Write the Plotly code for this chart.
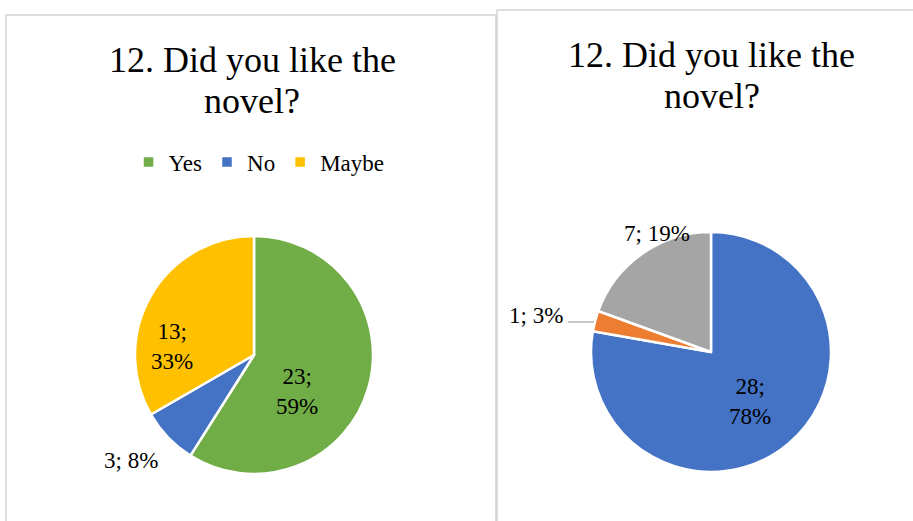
import plotly.graph_objects as go

# Survey answers to question 12, two respondent groups
categories = ["Yes", "No", "Maybe"]
group_a_counts = [23, 3, 13]
group_b_counts = [28, 1, 7]

title_line1 = "12. Did you like the"
title_line2 = "novel?"

colors_a = ["#70AD47", "#4472C4", "#FFC000"]
colors_b = ["#4472C4", "#ED7D31", "#A5A5A5"]

W, H = 913, 521
FONT = "Liberation Serif"


def px_x(x):
    return x / W


def px_y(y):
    return 1 - y / H


def pie_domain(cx, cy, r):
    return dict(x=[px_x(cx - r), px_x(cx + r)], y=[px_y(cy + r), px_y(cy - r)])


def slice_labels(counts, two_line):
    total = sum(counts)
    out = []
    for v, split in zip(counts, two_line):
        pct = round(100 * v / total)
        sep = ";<br>" if split else "; "
        out.append(f"{v}{sep}{pct}%")
    return out


fig = go.Figure()

fig.add_trace(go.Pie(
    labels=categories, values=group_a_counts, sort=False,
    direction="clockwise", rotation=0,
    marker=dict(colors=colors_a, line=dict(color="white", width=2.5)),
    textinfo="none",
    domain=pie_domain(254, 355, 119),
    legend="legend", hoverinfo="label+value+percent",
))

fig.add_trace(go.Pie(
    labels=categories, values=group_b_counts, sort=False,
    direction="clockwise", rotation=0,
    marker=dict(colors=colors_b, line=dict(color="white", width=2.5)),
    textinfo="none",
    domain=pie_domain(711, 352, 120),
    legend="legend2", hoverinfo="label+value+percent",
))

# Panel frames
frame = dict(type="rect", xref="paper", yref="paper",
             line=dict(color="#d4d4d4", width=1.5), fillcolor="rgba(0,0,0,0)", layer="below")
shapes = [
    dict(frame, x0=px_x(6), x1=px_x(496), y0=px_y(540), y1=px_y(15)),
    dict(frame, x0=px_x(497), x1=px_x(930), y0=px_y(540), y1=px_y(10)),
    # leader line for the small "No" slice on the right
    dict(type="line", xref="paper", yref="paper",
         x0=px_x(568), x1=px_x(594), y0=px_y(322), y1=px_y(322),
         line=dict(color="#a6a6a6", width=1.2)),
]

annotations = []

# Two-line titles
for cx, y1, y2 in [(252, 60, 101), (711.5, 55, 96)]:
    for txt, yy in [(title_line1, y1), (title_line2, y2)]:
        annotations.append(dict(
            text=txt, x=px_x(cx), y=px_y(yy), xref="paper", yref="paper",
            xanchor="center", yanchor="middle", showarrow=False,
            font=dict(family=FONT, size=36, color="black"),
        ))

# Data labels: "count; percent"
labels_a = slice_labels(group_a_counts, [True, False, True])
labels_b = slice_labels(group_b_counts, [True, False, False])
label_spots_a = [(297, 391), (131, 460), (172, 346)]
label_spots_b = [(750, 401), (536, 315), (657, 233)]
for texts, spots in [(labels_a, label_spots_a), (labels_b, label_spots_b)]:
    for txt, (lx, ly) in zip(texts, spots):
        annotations.append(dict(
            text=txt, x=px_x(lx), y=px_y(ly), xref="paper", yref="paper",
            xanchor="center", yanchor="middle", showarrow=False,
            font=dict(family=FONT, size=23, color="black"),
        ))

legend_style = dict(orientation="h", xanchor="center", yanchor="middle",
                    font=dict(family=FONT, size=23, color="black"),
                    bgcolor="rgba(0,0,0,0)", itemclick=False, itemwidth=30)

fig.update_layout(
    width=W, height=H,
    margin=dict(l=0, r=0, t=0, b=0),
    paper_bgcolor="white", plot_bgcolor="white",
    shapes=shapes, annotations=annotations,
    legend=dict(legend_style, x=px_x(259), y=px_y(162)),
    legend2=dict(legend_style, x=px_x(715), y=px_y(158)),
    font=dict(family=FONT),
)

fig.write_html("out.html")
